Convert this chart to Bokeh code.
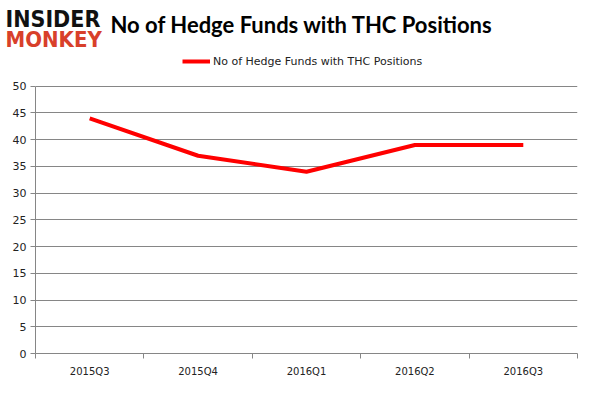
from bokeh.plotting import figure
from bokeh.layouts import column
from bokeh.models import Range1d, FixedTicker, Label, Legend, LegendItem
from bokeh.embed import file_html
from bokeh.resources import INLINE

quarters = ["2015Q3", "2015Q4", "2016Q1", "2016Q2", "2016Q3"]
funds = [44, 37, 34, 39, 39]
y_ticks = [0, 5, 10, 15, 20, 25, 30, 35, 40, 45, 50]
series_name = "No of Hedge Funds with THC Positions"
chart_title = "No of Hedge Funds with THC Positions"
logo_top = "INSIDER"
logo_bottom = "MONKEY"

W = 585
HEADER_H = 52
MAIN_H = 379 - HEADER_H

# ---------- header (logo + title) ----------
h = figure(width=W, height=HEADER_H, output_backend="svg", toolbar_location=None,
           x_range=Range1d(0, W), y_range=Range1d(HEADER_H, 0),
           x_axis_location=None, y_axis_location=None, min_border=0)
h.frame_align = False
h.outline_line_color = None
h.xgrid.visible = False
h.ygrid.visible = False
h.background_fill_color = "white"
h.border_fill_color = "white"
h.add_layout(Label(x=5, y=18, text=logo_top, text_font="DejaVu Sans Condensed",
                   text_font_style="bold", text_font_size="23px", text_color="#111111",
                   text_baseline="alphabetic"))
h.add_layout(Label(x=5, y=39, text=logo_bottom, text_font="DejaVu Sans Condensed",
                   text_font_style="bold", text_font_size="22px", text_color="#d8402a",
                   text_baseline="alphabetic"))
h.add_layout(Label(x=110, y=24, text=chart_title, text_font="Lato", text_font_style="bold",
                   text_font_size="22px", text_color="black", text_baseline="alphabetic"))

# ---------- main chart ----------
xs = [i + 0.5 for i in range(len(quarters))]
axis_max = 50
frame_h = MAIN_H - 24          # bottom axis panel ~24px
axis_px = 269                  # pixels for 0..50
y_top = axis_max * frame_h / axis_px

p = figure(width=W, height=MAIN_H, output_backend="svg", toolbar_location=None,
           x_range=Range1d(0, len(quarters)), y_range=Range1d(0, y_top),
           min_border_left=35, min_border_right=8, min_border_top=0, min_border_bottom=24)
p.frame_align = False
p.outline_line_color = None
p.background_fill_color = "white"
p.border_fill_color = "white"

r = p.line(xs, funds, line_color="#ff0000", line_width=4)

p.yaxis.ticker = FixedTicker(ticks=y_ticks)
p.yaxis.bounds = (0, axis_max)
p.yaxis.axis_line_color = "#868686"
p.yaxis.major_tick_line_color = "#868686"
p.yaxis.major_tick_out = 5
p.yaxis.major_tick_in = 0
p.yaxis.minor_tick_line_color = None
p.yaxis.major_label_text_font = "DejaVu Sans"
p.yaxis.major_label_text_font_size = "11px"
p.yaxis.major_label_text_color = "#222222"
p.yaxis.major_label_standoff = 4

p.xaxis.ticker = FixedTicker(ticks=xs, minor_ticks=list(range(len(quarters) + 1)))
p.xaxis.major_label_overrides = {x: q for x, q in zip(xs, quarters)}
p.xaxis.axis_line_color = "#868686"
p.xaxis.major_tick_line_color = None
p.xaxis.minor_tick_line_color = "#868686"
p.xaxis.minor_tick_out = 5
p.xaxis.minor_tick_in = 0
p.xaxis.major_label_text_font = "DejaVu Sans"
p.xaxis.major_label_text_font_size = "10px"
p.xaxis.major_label_text_color = "#222222"
p.xaxis.major_label_standoff = 6

p.xgrid.grid_line_color = None
p.ygrid.ticker = FixedTicker(ticks=y_ticks)
p.ygrid.grid_line_color = "#868686"

legend = Legend(items=[LegendItem(label=series_name, renderers=[r])],
                location=(147, frame_h - 21), label_text_font="DejaVu Sans",
                label_text_font_size="11px", label_text_color="#222222", glyph_width=28,
                background_fill_alpha=0, border_line_color=None, padding=0, margin=0,
                label_standoff=3)
p.add_layout(legend)

layout = column(h, p, spacing=0)
open("out.html", "w").write(file_html(layout, INLINE))
